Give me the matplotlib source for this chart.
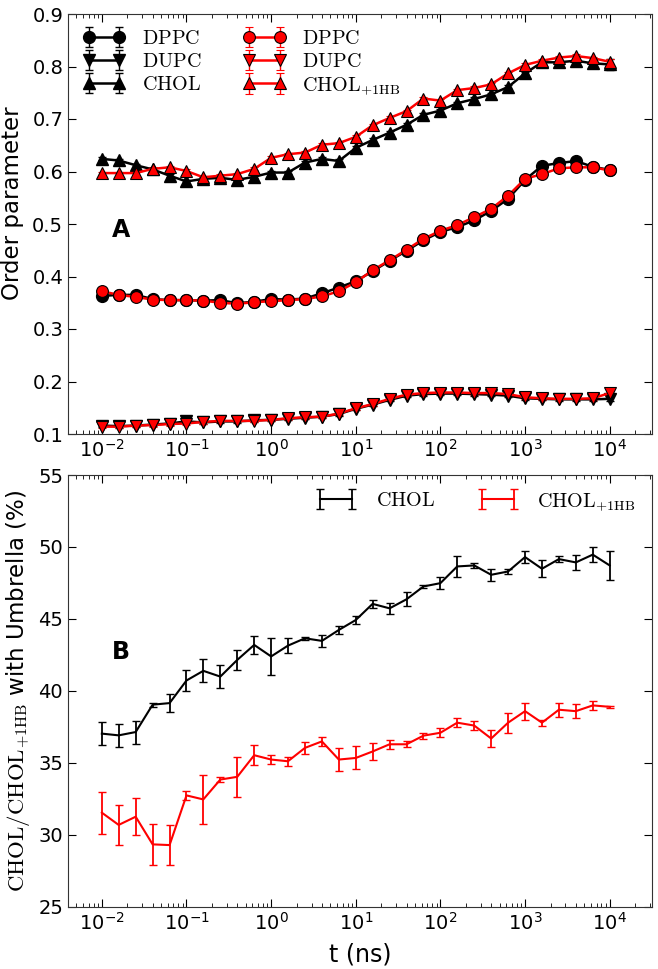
import matplotlib
matplotlib.use("Agg")
import matplotlib.pyplot as plt
import numpy as np

plt.rcParams['mathtext.fontset'] = 'cm'
plt.rcParams['font.family'] = ['DejaVu Sans']

t = [0.01, 0.0158, 0.0251, 0.0398, 0.0631, 0.1, 0.158, 0.251, 0.398, 0.631,
     1, 1.58, 2.51, 3.98, 6.31, 10, 15.8, 25.1, 39.8, 63.1,
     100, 158, 251, 398, 631, 1000, 1585, 2512, 3981, 6310, 10000]

# Panel A: order parameters
dppc_k = [0.363, 0.365, 0.365, 0.357, 0.355, 0.355, 0.354, 0.355, 0.349, 0.352, 0.357, 0.356, 0.358,
          0.368, 0.379, 0.391, 0.410, 0.430, 0.449, 0.469, 0.485, 0.494, 0.507, 0.525, 0.548, 0.584,
          0.611, 0.616, 0.620, 0.609, 0.603]
dupc_k = [0.116, 0.115, 0.116, 0.118, 0.120, 0.124, 0.122, 0.124, 0.124, 0.126, 0.127, 0.129, 0.131,
          0.133, 0.138, 0.148, 0.156, 0.165, 0.173, 0.176, 0.177, 0.177, 0.176, 0.175, 0.173, 0.168,
          0.167, 0.166, 0.166, 0.166, 0.167]
chol_k = [0.624, 0.621, 0.612, 0.604, 0.592, 0.581, 0.586, 0.588, 0.584, 0.590, 0.598, 0.598, 0.617,
          0.624, 0.620, 0.645, 0.660, 0.674, 0.689, 0.708, 0.716, 0.730, 0.738, 0.747, 0.761, 0.787,
          0.808, 0.808, 0.811, 0.806, 0.804]
dppc_r = [0.372, 0.365, 0.361, 0.356, 0.355, 0.355, 0.354, 0.350, 0.348, 0.351, 0.353, 0.355, 0.357,
          0.362, 0.372, 0.389, 0.412, 0.431, 0.451, 0.472, 0.487, 0.498, 0.513, 0.529, 0.554, 0.586,
          0.595, 0.606, 0.608, 0.608, 0.602]
dupc_r = [0.114, 0.114, 0.116, 0.117, 0.119, 0.120, 0.123, 0.125, 0.125, 0.125, 0.127, 0.130, 0.132,
          0.133, 0.139, 0.149, 0.157, 0.167, 0.175, 0.178, 0.179, 0.179, 0.178, 0.178, 0.176, 0.170,
          0.168, 0.167, 0.167, 0.168, 0.178]
chol_r = [0.597, 0.597, 0.597, 0.605, 0.608, 0.601, 0.589, 0.592, 0.595, 0.605, 0.626, 0.633, 0.636,
          0.651, 0.654, 0.666, 0.688, 0.702, 0.715, 0.739, 0.735, 0.755, 0.759, 0.766, 0.787, 0.803,
          0.811, 0.817, 0.820, 0.816, 0.809]
err_small = [0.003] * 30 + [0.005]
err_chol_k = [0.003] * 30 + [0.01]

# Panel B: fraction with umbrella
umb_chol = [37.04, 36.92, 37.15, 39.05, 39.16, 40.73, 41.40, 41.0, 42.16, 43.2, 42.4, 43.15, 43.66,
            43.48, 44.24, 44.93, 46.05, 45.74, 46.37, 47.26, 47.49, 48.65, 48.72, 48.07, 48.3, 49.3,
            48.49, 49.16, 48.93, 49.47, 48.72]
umb_chol_err = [0.8, 0.8, 0.8, 0.15, 0.6, 0.7, 0.8, 0.8, 0.7, 0.6, 1.3, 0.5, 0.1, 0.4, 0.3, 0.25,
                0.3, 0.4, 0.5, 0.1, 0.4, 0.7, 0.2, 0.4, 0.2, 0.4, 0.6, 0.2, 0.5, 0.5, 1.0]
umb_hb = [31.55, 30.7, 31.27, 29.35, 29.3, 32.75, 32.47, 33.85, 34.04, 35.54, 35.24, 35.12, 36.05,
          36.5, 35.24, 35.35, 35.8, 36.3, 36.3, 36.9, 37.1, 37.8, 37.6, 36.7, 37.8, 38.6, 37.8,
          38.7, 38.6, 39.0, 38.9]
umb_hb_err = [1.45, 1.4, 1.3, 1.4, 1.4, 0.3, 1.7, 0.15, 1.4, 0.7, 0.3, 0.3, 0.4, 0.3, 0.8, 0.8,
              0.6, 0.3, 0.2, 0.2, 0.3, 0.3, 0.3, 0.6, 0.7, 0.6, 0.2, 0.5, 0.5, 0.3, 0.05]

xticks = [1e-2, 1e-1, 1e0, 1e1, 1e2, 1e3, 1e4]
xlim = (10 ** -2.4, 10 ** 4.5)

fig = plt.figure(figsize=(6.58, 9.69), dpi=100)
axA = fig.add_axes([68 / 658, 1 - 434 / 969, 584 / 658, 420 / 969])
axB = fig.add_axes([68 / 658, 1 - 907 / 969, 584 / 658, 432 / 969])

lab_k = [r'$\mathrm{DPPC}$', r'$\mathrm{DUPC}$', r'$\mathrm{CHOL}$']
lab_r = [r'$\mathrm{DPPC}$', r'$\mathrm{DUPC}$', r'$\mathrm{CHOL}_{+1\mathrm{HB}}$']

handles = []
for y, e, m, lab in zip([dppc_k, dupc_k, chol_k], [err_small, err_small, err_chol_k],
                        ['o', 'v', '^'], lab_k):
    h = axA.errorbar(t, y, yerr=e, color='k', marker=m, markersize=8.5, lw=1.8,
                     mec='k', mfc='k', capsize=3, elinewidth=1, label=lab)
    handles.append(h)
for y, m, lab in zip([dppc_r, dupc_r, chol_r], ['o', 'v', '^'], lab_r):
    h = axA.errorbar(t, y, yerr=err_small, color='r', ecolor='r', marker=m, markersize=8.5, lw=1.8,
                     mec='k', mew=0.8, mfc='r', capsize=3, elinewidth=1, label=lab)
    handles.append(h)

axA.set_xscale('log')
axA.set_xlim(*xlim)
axA.set_ylim(0.1, 0.9)
axA.set_xticks(xticks)
axA.set_yticks([0.1, 0.2, 0.3, 0.4, 0.5, 0.6, 0.7, 0.8, 0.9])
axA.set_ylabel('Order parameter', fontsize=16.5)
axA.legend(handles=handles, ncol=2, loc='upper left', frameon=False, numpoints=2,
           fontsize=14.5, handlelength=2.1, columnspacing=2.1, labelspacing=0.2,
           borderaxespad=0.35, handletextpad=0.8)
axA.text(0.075, 0.486, 'A', transform=axA.transAxes, fontsize=17, fontweight='bold',
         va='center', ha='left')

hb1 = axB.errorbar(t, umb_chol, yerr=umb_chol_err, color='k', lw=1.5, capsize=3,
                   elinewidth=1.3, capthick=1, label=r'$\mathrm{CHOL}$')
hb2 = axB.errorbar(t, umb_hb, yerr=umb_hb_err, color='r', lw=1.5, capsize=3,
                   elinewidth=1.3, capthick=1, label=r'$\mathrm{CHOL}_{+1\mathrm{HB}}$')
axB.set_xscale('log')
axB.set_xlim(*xlim)
axB.set_ylim(25, 55)
axB.set_xticks(xticks)
axB.set_yticks([25, 30, 35, 40, 45, 50, 55])
axB.set_xlabel('t (ns)', fontsize=17)
axB.set_ylabel(r'$\mathrm{CHOL/CHOL_{+1HB}}$ with Umbrella (%)', fontsize=16.5)
axB.legend(handles=[hb1, hb2], ncol=2, loc='upper right', frameon=False, numpoints=2,
           fontsize=14.5, handlelength=2.2, columnspacing=2.05, borderaxespad=0.4,
           handletextpad=0.85)
axB.text(0.075, 0.591, 'B', transform=axB.transAxes, fontsize=17, fontweight='bold',
         va='center', ha='left')

for ax in (axA, axB):
    ax.tick_params(which='both', direction='in', top=True, right=True, labelsize=14)
    ax.tick_params(which='major', length=6)
    ax.tick_params(which='minor', length=3)
    for s in ax.spines.values():
        s.set_color('#333333')
axA.yaxis.set_label_coords(-0.075, 0.55)
axB.yaxis.set_label_coords(-0.062, 0.5)
axB.xaxis.labelpad = 6

fig.savefig('out.png', dpi=100)
